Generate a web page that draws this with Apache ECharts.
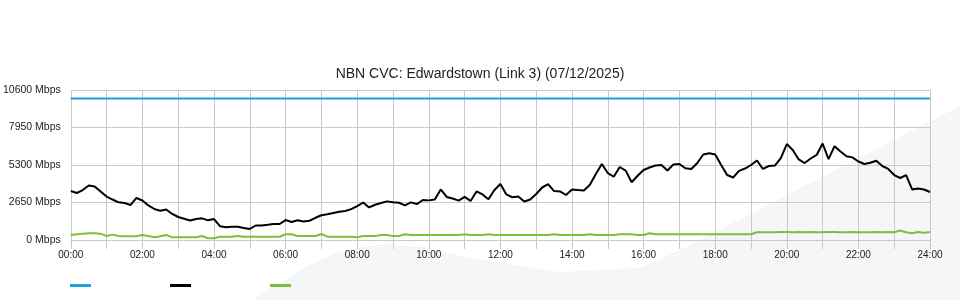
<!DOCTYPE html>
<html><head><meta charset="utf-8">
<script src="https://cdn.jsdelivr.net/npm/echarts@6/dist/echarts.min.js"></script>
<style>html,body{margin:0;padding:0;background:#fff}#c{width:960px;height:300px}</style>
</head><body><div id="c"></div>
<script>
const titleText = 'NBN CVC: Edwardstown (Link 3) (07/12/2025)';
const seriesNames = ['Capacity', 'Download', 'Upload'];
const yTicks = [0, 2650, 5300, 7950, 10600];
// 10-minute samples, 00:00 .. 24:00
const capacity = [];
const download = [
3460,3320,3530,3850,3780,3430,3070,2860,2660,2610,2470,2970,2790,2440,2190,2070,2160,1840,1625,1505,
1380,1480,1530,1390,1480,975,905,940,940,850,780,1025,1025,1075,1130,1130,1410,1270,1400,1310,
1360,1570,1750,1820,1910,2000,2050,2180,2400,2650,2300,2490,2610,2730,2670,2630,2450,2660,2540,2830,
2800,2860,3570,3040,2930,2780,3050,2760,3430,3220,2880,3530,3960,3220,3020,3070,2720,2860,3250,3710,
3940,3460,3430,3180,3570,3530,3500,3900,4660,5370,4730,4470,5160,4900,4080,4540,4950,5120,5260,5300,
4910,5340,5370,5070,5020,5440,6040,6130,6040,5300,4590,4420,4880,5050,5300,5620,5020,5230,5260,5790,
6780,6360,5690,5440,5760,6010,6820,5720,6630,6250,5920,5840,5550,5370,5460,5600,5230,5020,4590,4380,
4590,3570,3640,3570,3390];
const upload = [
353,400,450,473,473,450,283,380,283,261,261,261,353,283,190,260,353,190,190,190,
190,190,283,120,120,233,233,233,283,233,233,233,233,233,233,233,403,403,283,283,
283,283,424,233,233,233,233,233,190,283,283,283,353,353,283,283,403,353,353,353,
353,353,353,353,353,353,403,353,353,353,403,353,353,353,353,353,353,353,353,353,
353,403,353,353,353,353,353,403,353,353,353,353,403,403,403,353,353,473,403,403,
403,403,403,403,403,403,403,403,403,403,403,403,403,403,403,544,544,544,544,565,
565,544,565,544,565,544,544,565,565,544,544,565,544,544,544,565,544,565,544,670,
544,470,565,520,565];
for (let i = 0; i < download.length; i++) capacity.push(10000);
const times = [];
for (let i = 0; i < download.length; i++) {
  const m = i * 10, h = Math.floor(m / 60), mm = m % 60;
  times.push(String(h).padStart(2, '0') + ':' + String(mm).padStart(2, '0'));
}
const chart = echarts.init(document.getElementById('c'));
const gridColor = '#c9c9c9';
chart.setOption({
  animation: false,
  backgroundColor: '#fff',
  graphic: [{
    type: 'polygon', silent: true, z: -10,
    shape: { points: [[253,300],[300,270],[340,251],[385,244],[430,248],[470,258],[560,272],[640,268],[680,250],[960,106],[960,300]] },
    style: { fill: '#f5f6f8' }
  }],
  title: {
    text: titleText, left: 'center', top: 62,
    textStyle: { fontFamily: 'Liberation Sans', fontSize: 14, fontWeight: 'normal', color: '#222' }
  },
  legend: {
    left: 65, top: 279, itemWidth: 21, itemHeight: 3, itemGap: 79, icon: 'rect',
    formatter: () => '', textStyle: { fontSize: 1 },
    data: seriesNames
  },
  grid: { left: 70, right: 30, top: 90, bottom: 60, containLabel: false },
  xAxis: {
    type: 'category', data: times, boundaryGap: false,
    axisLine: { show: true, lineStyle: { color: gridColor } },
    axisTick: { show: true, interval: 5, length: 9, lineStyle: { color: gridColor } },
    splitLine: { show: true, interval: 5, lineStyle: { color: gridColor, width: 1 } },
    axisLabel: { interval: 11, margin: 10, fontFamily: 'Liberation Sans', fontSize: 10, color: '#222' }
  },
  yAxis: {
    type: 'value', min: 0, max: 10600, interval: 2650,
    axisLine: { show: false }, axisTick: { show: false },
    splitLine: { lineStyle: { color: gridColor } },
    axisLabel: { margin: 10, fontFamily: 'Liberation Sans', fontSize: 10.5, color: '#222',
      formatter: v => v + ' Mbps' }
  },
  series: [
    { name: seriesNames[0], type: 'line', data: capacity, showSymbol: false,
      lineStyle: { color: '#1f9fe0', width: 2 }, itemStyle: { color: '#1f9fe0' } },
    { name: seriesNames[1], type: 'line', data: download, showSymbol: false,
      lineStyle: { color: '#000', width: 2 }, itemStyle: { color: '#000' } },
    { name: seriesNames[2], type: 'line', data: upload, showSymbol: false,
      lineStyle: { color: '#7dbf3b', width: 2 }, itemStyle: { color: '#7dbf3b' } }
  ]
});
</script></body></html>
